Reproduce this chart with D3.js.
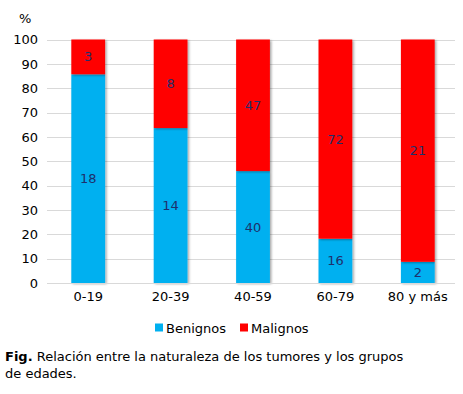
<!DOCTYPE html>
<html>
<head>
<meta charset="utf-8">
<script src="https://cdn.jsdelivr.net/npm/d3@7"></script>
<style>
  body { margin: 0; background: #fff; }
  svg { font-family: "DejaVu Sans", Verdana, sans-serif; }
</style>
</head>
<body>
<svg id="chart" width="463" height="394"></svg>
<script>
// data
const groups = ["0-19", "20-39", "40-59", "60-79", "80 y más"];
const benignos = [18, 14, 40, 16, 2];
const malignos = [3, 8, 47, 72, 21];
const yTicks = [0, 10, 20, 30, 40, 50, 60, 70, 80, 90, 100];
const seriesNames = ["Benignos", "Malignos"];
const colors = ["#00b0f0", "#ff0000"];

const svg = d3.select("#chart");
const margin = {left: 47, right: 4, top: 39.5, bottom: 111};
const W = 463, H = 394;

const x = d3.scaleBand()
    .domain(groups)
    .range([margin.left, W - margin.right])
    .paddingInner(0.59)
    .paddingOuter(0.295);
const y = d3.scaleLinear()
    .domain([0, 100])
    .range([H - margin.bottom, margin.top]);

// percent stack
const rows = groups.map((g, i) => {
  const tot = benignos[i] + malignos[i];
  return {group: g, Benignos: benignos[i] / tot * 100, Malignos: malignos[i] / tot * 100,
    raw: {Benignos: benignos[i], Malignos: malignos[i]}};
});
const stacked = d3.stack().keys(seriesNames)(rows);

const defs = svg.append("defs");
const f = defs.append("filter").attr("id", "shadow")
    .attr("x", "-20%").attr("y", "-5%").attr("width", "150%").attr("height", "115%");
f.append("feDropShadow").attr("dx", 1.5).attr("dy", 1).attr("stdDeviation", 1.3)
    .attr("flood-color", "#000").attr("flood-opacity", 0.35);

// grid
svg.append("g")
    .selectAll("line")
    .data(yTicks)
    .join("line")
    .attr("x1", margin.left).attr("x2", W - 8)
    .attr("y1", d => Math.round(y(d)) + 0.5).attr("y2", d => Math.round(y(d)) + 0.5)
    .attr("stroke", "#d9d9d9").attr("stroke-width", 1);

// y axis labels
const yAxis = svg.append("g")
    .attr("transform", `translate(${margin.left},0)`)
    .call(d3.axisLeft(y).tickValues(yTicks).tickSize(0).tickPadding(9));
yAxis.select(".domain").remove();
yAxis.selectAll("text").attr("font-size", 13).attr("fill", "#000")
    .attr("font-family", "DejaVu Sans, Verdana, sans-serif");

svg.append("text").attr("x", 19).attr("y", 23).attr("font-size", 13).text("%");

// bars
const layer = svg.append("g").selectAll("g")
    .data(stacked)
    .join("g")
    .attr("fill", (d, i) => colors[i]);

layer.selectAll("rect")
    .data(d => d)
    .join("rect")
    .attr("x", d => x(d.data.group))
    .attr("width", x.bandwidth())
    .attr("y", d => y(d[1]))
    .attr("height", d => y(d[0]) - y(d[1]))
    .attr("filter", "url(#shadow)");

// value labels
svg.append("g").selectAll("g")
    .data(stacked)
    .join("g")
    .each(function(s) {
      d3.select(this).selectAll("text")
        .data(s)
        .join("text")
        .attr("x", d => x(d.data.group) + x.bandwidth() / 2)
        .attr("y", d => (y(d[0]) + y(d[1])) / 2)
        .attr("dy", "0.35em")
        .attr("text-anchor", "middle")
        .attr("font-size", 13)
        .attr("fill", "#1f2f6b")
        .text(d => d.data.raw[s.key]);
    });

// x axis line
svg.append("line")
    .attr("x1", margin.left).attr("x2", W - 8)
    .attr("y1", Math.round(y(0)) + 0.5).attr("y2", Math.round(y(0)) + 0.5)
    .attr("stroke", "#d9d9d9");

const xAxis = svg.append("g")
    .attr("transform", `translate(0,${y(0)})`)
    .call(d3.axisBottom(x).tickSize(0).tickPadding(9));
xAxis.select(".domain").remove();
xAxis.selectAll("text").attr("font-size", 13).attr("fill", "#000")
    .attr("font-family", "DejaVu Sans, Verdana, sans-serif");

// legend
const legend = svg.append("g").attr("transform", "translate(155,328)");
const legX = [0, 85];
seriesNames.forEach((n, i) => {
  legend.append("rect").attr("x", legX[i]).attr("y", -4.5).attr("width", 8).attr("height", 8)
      .attr("fill", colors[i]);
  legend.append("text").attr("x", legX[i] + 11).attr("y", 0).attr("dy", "0.35em")
      .attr("font-size", 13).attr("fill", "#000").text(n);
});

// caption
const cap = svg.append("text").attr("x", 5).attr("y", 361).attr("font-size", 13).attr("fill", "#000");
cap.append("tspan").attr("font-weight", "bold").text("Fig.");
cap.append("tspan").text(" Relación entre la naturaleza de los tumores y los grupos");
svg.append("text").attr("x", 5).attr("y", 378).attr("font-size", 13).attr("fill", "#000")
    .text("de edades.");
</script>
</body>
</html>
